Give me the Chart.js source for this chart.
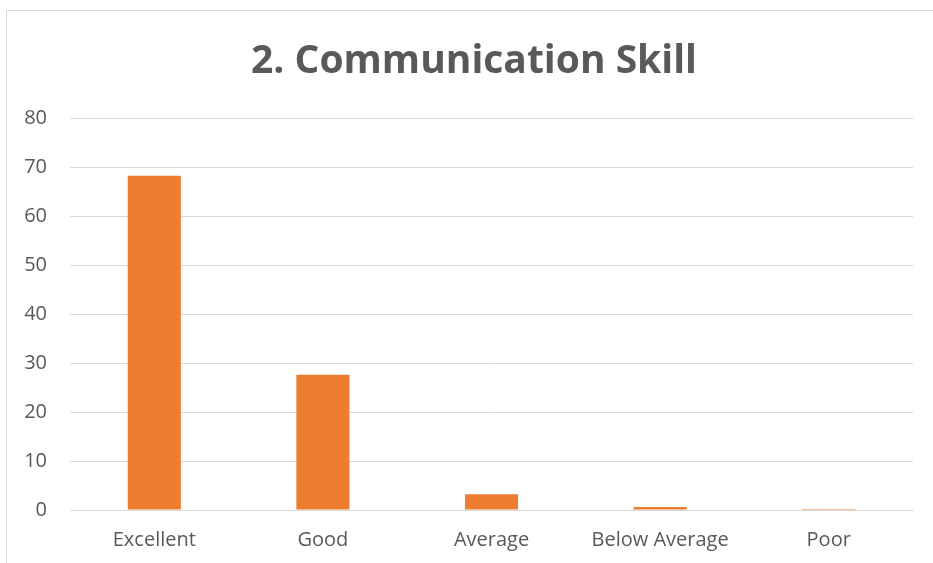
<!DOCTYPE html>
<html>
<head>
<meta charset="utf-8">
<script src="https://cdn.jsdelivr.net/npm/chart.js@4"></script>
<style>
  html, body { margin: 0; padding: 0; background: #fff; overflow: hidden; }
  #wrap { position: relative; width: 933px; height: 563px; }
  #frame { position: absolute; left: 6px; top: 10px; width: 960px; height: 600px; border: 1px solid #d9d9d9; box-sizing: border-box; }
  canvas { position: absolute; left: 0; top: 0; }
</style>
</head>
<body>
<div id="wrap">
  <div id="frame"></div>
  <canvas id="chart" width="933" height="563"></canvas>
</div>
<script>
const categories = ['Excellent', 'Good', 'Average', 'Below Average', 'Poor'];
const values = [68.2, 27.6, 3.2, 0.6, 0.2];
const yTicks = [0, 10, 20, 30, 40, 50, 60, 70, 80];
const titleText = '2. Communication Skill';

const textColor = '#595959';
const gridColor = '#d9d9d9';
const font = "'Open Sans', 'Liberation Sans', sans-serif";

// title is centred on the outer frame, not the canvas, so draw it ourselves
const frameTitle = {
  id: 'frameTitle',
  afterDraw(chart) {
    const ctx = chart.ctx;
    ctx.save();
    ctx.font = `bold 39px ${font}`;
    ctx.fillStyle = textColor;
    ctx.textAlign = 'center';
    ctx.textBaseline = 'alphabetic';
    ctx.fillText(titleText, 474, 73);
    ctx.restore();
  },
};

new Chart(document.getElementById('chart'), {
  type: 'bar',
  data: {
    labels: categories,
    datasets: [{
      data: values,
      backgroundColor: '#ED7D31',
      categoryPercentage: 1,
      barPercentage: 0.315,
    }],
  },
  options: {
    responsive: false,
    animation: false,
    layout: { padding: { left: 0, right: 20, top: 118, bottom: 0 } },
    plugins: {
      legend: { display: false },
      tooltip: { enabled: false },
      title: { display: false },
    },
    scales: {
      x: {
        grid: { display: false, drawTicks: false },
        border: { color: gridColor, width: 1 },
        ticks: { color: textColor, font: { family: font, size: 20 }, padding: 18, maxRotation: 0 },
        afterFit: (s) => { s.height = 53; },
      },
      y: {
        min: 0,
        max: 80,
        afterBuildTicks: (s) => { s.ticks = yTicks.map((v) => ({ value: v })); },
        grid: { color: gridColor, lineWidth: 1, drawTicks: false },
        border: { display: false },
        ticks: { color: textColor, font: { family: font, size: 20 }, padding: 23 },
        afterFit: (s) => { s.width = 70; },
      },
    },
  },
  plugins: [frameTitle],
});
</script>
</body>
</html>
